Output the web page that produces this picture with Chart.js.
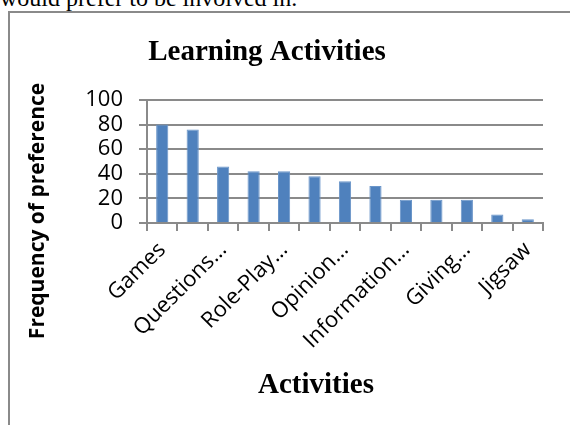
<!DOCTYPE html>
<html>
<head>
<meta charset="utf-8">
<script src="https://cdn.jsdelivr.net/npm/chart.js@4"></script>
<style>
  body { margin: 0; background: #fff; width: 570px; height: 425px; overflow: hidden; position: relative; }
  #lead { position: absolute; left: 0; top: -16px; font: 24px "Liberation Serif", "Times New Roman", serif; line-height: 28px; white-space: nowrap; }
  #box { position: absolute; left: 8px; top: 11px; width: 600px; height: 500px; border-left: 2px solid #8a8a8a; border-top: 2px solid #8a8a8a; }
  #wrap { position: absolute; left: 0; top: 0; width: 570px; height: 425px; }
</style>
</head>
<body>
<div id="lead">would prefer to be involved in.</div>
<div id="box"></div>
<div id="wrap"><canvas id="chart1"></canvas></div>
<script>
// Learning activities ranked by how many students preferred them
const activities = ['Games', 'Songs', 'Questions…', 'Pair Work', 'Role-Play…', 'Discussion…',
    'Opinion…', 'Problem…', 'Information…', 'Storytelling', 'Giving…', 'Debates', 'Jigsaw'];
const frequency = [80, 76, 46, 42, 42, 38, 34, 30, 19, 19, 19, 7, 3];
const yTicks = [0, 20, 40, 60, 80, 100];

const chartTitle = 'Learning Activities';
const xTitle = 'Activities';
const yTitle = 'Frequency of preference';

// titles are placed like in the Word chart, not centred on the plot
const titlePlugin = {
    id: 'titles',
    afterDraw(chart) {
        const c = chart.ctx;
        c.save();
        c.fillStyle = '#000';
        c.textAlign = 'center';
        c.textBaseline = 'alphabetic';
        c.font = 'bold 29px "Liberation Serif", "Times New Roman", serif';
        c.fillText(chartTitle, 267, 60);
        c.fillText(xTitle, 316, 393);
        c.translate(44, 211);
        c.rotate(-Math.PI / 2);
        c.font = 'bold 21px "Open Sans", sans-serif';
        c.fillText(yTitle, 0, 0);
        c.restore();
    }
};

const ctx1 = document.getElementById('chart1').getContext('2d');
const chart1 = new Chart(ctx1, {
    type: 'bar',
    data: {
        labels: activities,
        datasets: [{
            label: 'Frequency',
            data: frequency,
            backgroundColor: '#4F81BD',
            borderColor: '#6a95c9',
            borderWidth: 1,
            barPercentage: 0.4,
            categoryPercentage: 1.0
        }]
    },
    options: {
        responsive: true,
        maintainAspectRatio: false,
        animation: false,
        layout: { padding: { top: 100, right: 27, bottom: 0, left: 0 } },
        plugins: {
            legend: { display: false },
            tooltip: { enabled: false }
        },
        scales: {
            x: {
                afterFit(scale) { scale.height = 202; },
                grid: {
                    offset: true,
                    drawOnChartArea: false,
                    color: '#8a8a8a',
                    lineWidth: 2,
                    tickLength: 8
                },
                border: { color: '#8a8a8a', width: 2 },
                ticks: {
                    autoSkip: false,
                    minRotation: 45,
                    maxRotation: 45,
                    padding: 6,
                    color: '#000',
                    font: { family: '"Open Sans", sans-serif', size: 22 },
                    callback: (v, i) => (i % 2 === 0 ? activities[i] : '')
                }
            },
            y: {
                min: 0,
                max: 100,
                afterFit(scale) { scale.width = 147; },
                afterBuildTicks(scale) { scale.ticks = yTicks.map(v => ({ value: v })); },
                grid: {
                    color: '#8a8a8a',
                    lineWidth: 2,
                    tickLength: 8
                },
                border: { color: '#8a8a8a', width: 2 },
                ticks: {
                    autoSkip: false,
                    padding: 16,
                    color: '#000',
                    font: { family: '"Open Sans", sans-serif', size: 22 }
                }
            }
        }
    },
    plugins: [titlePlugin]
});
</script>
</body>
</html>
